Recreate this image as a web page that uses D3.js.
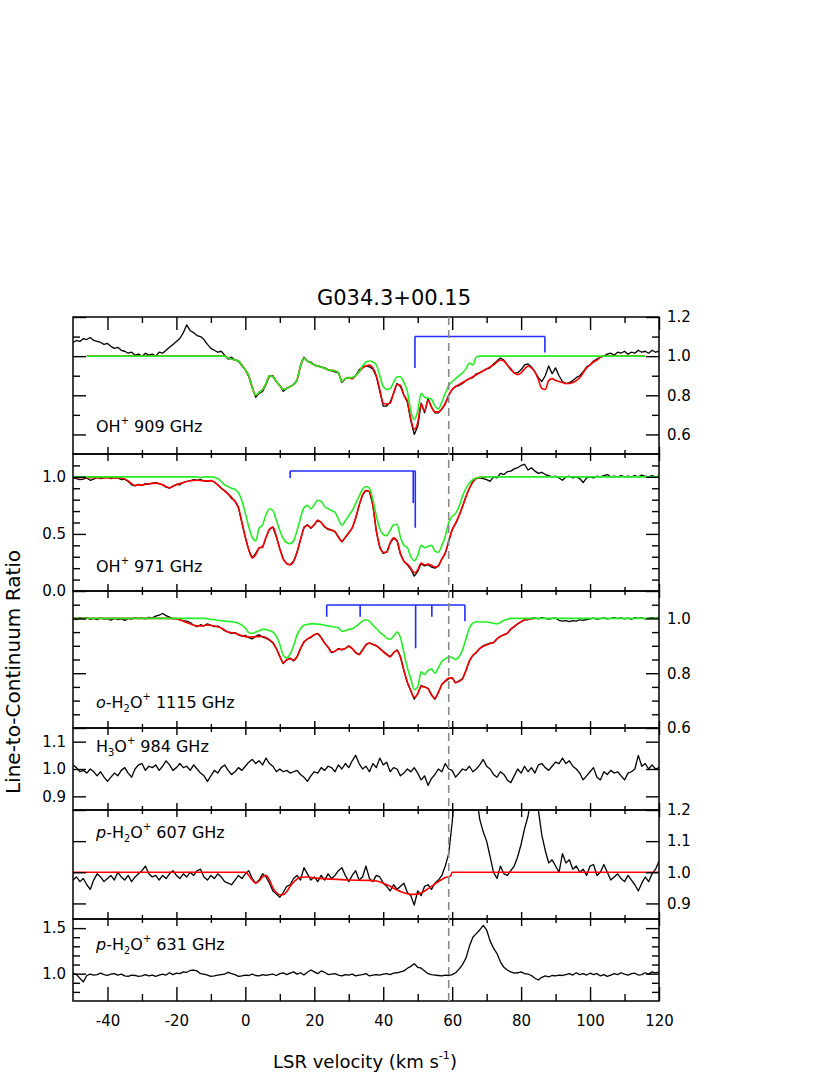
<!DOCTYPE html>
<html><head><meta charset="utf-8">
<script src="https://cdn.jsdelivr.net/npm/d3@7"></script>
<style>body{margin:0;background:#fff}svg{display:block}text{font-family:"DejaVu Sans",sans-serif;fill:#000}</style>
</head><body><svg id="c" width="830" height="1075"></svg>
<script>
// ---------------- DATA ----------------
const title = "G034.3+00.15";
const xTitle = "LSR velocity (km s";
const yTitle = "Line-to-Continuum Ratio";
const vel = d3.range(-50, 121, 1); // velocity grid, km/s
const xMajorTicks = [-40,-20,0,20,40,60,80,100,120];
const xMinorTicks = [-30,-10,10,30,50,70,90,110];
const vDashed = 59;

// panel 1: OH+ 909 GHz
const oh909 = [
1.07,1.08,1.075,1.09,1.085,1.095,1.08,1.075,1.07,1.06,
1.065,1.05,1.04,1.045,1.03,1.025,1.015,1.02,1.005,1.01,
1.0,1.015,1.005,1.01,1.0,1.02,1.015,1.03,1.045,1.06,
1.075,1.09,1.12,1.16,1.13,1.12,1.105,1.1,1.085,1.06,
1.04,1.03,1.02,1.025,1.005,0.985,0.995,0.98,0.975,0.95,
0.93,0.895,0.84,0.79,0.81,0.82,0.855,0.9,0.9,0.87,
0.85,0.82,0.835,0.845,0.855,0.875,0.95,0.995,0.975,0.97,
0.955,0.95,0.945,0.94,0.93,0.925,0.92,0.915,0.865,0.885,
0.89,0.885,0.9,0.93,0.945,0.95,0.945,0.935,0.895,0.82,
0.745,0.745,0.765,0.81,0.86,0.845,0.8,0.765,0.67,0.6,
0.64,0.76,0.71,0.785,0.74,0.71,0.71,0.73,0.755,0.8,
0.83,0.845,0.85,0.86,0.875,0.885,0.89,0.91,0.915,0.925,
0.935,0.94,0.96,0.975,0.99,0.98,0.955,0.93,0.915,0.915,
0.93,0.955,0.96,0.945,0.92,0.89,0.87,0.9,0.95,0.91,
0.94,0.9,0.87,0.86,0.865,0.875,0.89,0.9,0.92,0.945,
0.955,0.975,0.985,0.995,1.0,1.01,1.015,1.005,1.02,1.015,
1.025,1.01,1.02,1.015,1.03,1.02,1.025,1.015,1.03,1.02,
1.025];
const oh909Red = [[-46,1],[-7,1],[-6,1.0],[-5,0.99],[-4,0.985],[-3,0.98],[-2,0.975],[-1,0.955],[0,0.93],[1,0.9],[2,0.84],[3,0.8],[4,0.815],[5,0.83],[6,0.86],[7,0.9],[8,0.895],[9,0.87],[10,0.85],[11,0.83],[12,0.835],[13,0.845],[14,0.855],[15,0.88],[16,0.95],[17,0.99],[18,0.975],[19,0.965],[20,0.955],[22,0.945],[24,0.93],[26,0.925],[27,0.915],[28,0.87],[29,0.885],[30,0.89],[31,0.885],[32,0.9],[33,0.92],[34,0.94],[35,0.95],[36,0.955],[37,0.94],[38,0.9],[39,0.83],[40,0.76],[41,0.755],[42,0.76],[43,0.81],[44,0.855],[45,0.85],[46,0.8],[47,0.77],[48,0.68],[49,0.625],[50,0.66],[51,0.755],[52,0.72],[53,0.775],[54,0.74],[55,0.715],[56,0.715],[57,0.73],[58,0.76],[59,0.8],[60,0.83],[61,0.845],[62,0.855],[63,0.865],[64,0.875],[65,0.885],[66,0.895],[67,0.905],[68,0.915],[69,0.925],[70,0.935],[71,0.945],[72,0.955],[73,0.97],[74,0.98],[75,0.975],[76,0.955],[77,0.935],[78,0.915],[79,0.905],[80,0.915],[81,0.935],[82,0.95],[83,0.94],[84,0.92],[85,0.88],[86,0.835],[87,0.83],[88,0.875],[89,0.885],[90,0.875],[91,0.87],[92,0.865],[93,0.86],[94,0.86],[95,0.865],[96,0.875],[97,0.89],[98,0.915],[99,0.94],[100,0.955],[101,0.97],[102,0.98],[103,0.995],[104,1.0],[116,1.0]];
const oh909Green = [[-46,1],[-7,1],[-6,1.0],[-5,0.99],[-4,0.985],[-3,0.98],[-2,0.975],[-1,0.955],[0,0.93],[1,0.9],[2,0.84],[3,0.8],[4,0.815],[5,0.83],[6,0.86],[7,0.9],[8,0.895],[9,0.87],[10,0.85],[11,0.83],[12,0.835],[13,0.845],[14,0.855],[15,0.88],[16,0.95],[17,0.99],[18,0.975],[19,0.965],[20,0.955],[22,0.945],[24,0.93],[26,0.925],[27,0.915],[28,0.87],[29,0.885],[30,0.89],[31,0.89],[32,0.9],[33,0.92],[34,0.95],[35,0.97],[36,0.975],[37,0.97],[38,0.955],[39,0.9],[40,0.845],[41,0.83],[42,0.835],[43,0.865],[44,0.895],[45,0.895],[46,0.865],[47,0.82],[48,0.72],[49,0.675],[50,0.72],[51,0.81],[52,0.79],[53,0.785],[54,0.78],[55,0.745],[56,0.73],[57,0.765],[58,0.81],[59,0.85],[60,0.87],[61,0.885],[62,0.9],[63,0.915],[64,0.935],[65,0.965],[66,0.955],[67,0.995],[68,1.0],[116,1.0]];
const oh909Hfs = {level:1.1, comps:[[49.2,0.94],[86.9,1.018]]};

// panel 2: OH+ 971 GHz
const oh971 = [
0.99,0.985,0.975,0.98,0.99,0.97,0.98,0.995,0.985,0.99,
1.0,0.985,0.995,0.99,0.975,0.98,0.96,0.93,0.92,0.935,
0.925,0.94,0.935,0.945,0.95,0.94,0.93,0.91,0.9,0.92,
0.935,0.93,0.95,0.96,0.965,0.975,0.97,0.975,0.965,0.96,
0.97,0.955,0.93,0.9,0.88,0.85,0.81,0.79,0.73,0.6,
0.47,0.36,0.29,0.33,0.38,0.38,0.47,0.54,0.56,0.47,
0.37,0.28,0.24,0.23,0.26,0.34,0.45,0.56,0.58,0.55,
0.58,0.62,0.6,0.56,0.54,0.53,0.52,0.47,0.43,0.47,
0.51,0.55,0.64,0.75,0.84,0.88,0.87,0.75,0.52,0.38,
0.33,0.34,0.42,0.46,0.44,0.32,0.26,0.23,0.19,0.13,
0.17,0.24,0.22,0.23,0.21,0.2,0.22,0.28,0.33,0.43,
0.54,0.59,0.66,0.74,0.83,0.9,0.96,0.99,0.99,0.985,
0.975,0.96,1.0,0.99,1.03,1.02,1.045,1.05,1.07,1.08,
1.1,1.11,1.06,1.08,1.05,1.03,1.04,1.02,1.01,1.0,
1.005,0.99,0.97,1.0,1.005,0.99,1.0,0.985,0.95,0.99,
1.0,0.99,1.005,1.0,1.01,1.02,1.0,1.005,1.0,1.01,
1.0,1.005,1.0,1.01,1.0,1.015,1.005,1.0,1.01,1.0,
1.005];
const oh971Red = [[-50,0.995],[-36,0.99],[-35,0.98],[-34,0.965],[-33,0.94],[-32,0.925],[-31,0.93],[-30,0.93],[-28,0.94],[-26,0.945],[-24,0.93],[-23,0.915],[-22,0.905],[-21,0.915],[-20,0.93],[-18,0.95],[-16,0.965],[-14,0.97],[-12,0.965],[-10,0.965],[-9,0.955],[-8,0.93],[-7,0.9],[-6,0.875],[-5,0.85],[-4,0.82],[-3,0.785],[-2,0.73],[-1,0.6],[0,0.47],[1,0.36],[2,0.29],[3,0.32],[4,0.375],[5,0.39],[6,0.47],[7,0.54],[8,0.56],[9,0.48],[10,0.37],[11,0.28],[12,0.24],[13,0.23],[14,0.26],[15,0.34],[16,0.45],[17,0.55],[18,0.575],[19,0.555],[20,0.58],[21,0.62],[22,0.6],[23,0.565],[24,0.545],[25,0.535],[26,0.52],[27,0.475],[28,0.435],[29,0.47],[30,0.51],[31,0.555],[32,0.64],[33,0.75],[34,0.84],[35,0.88],[36,0.87],[37,0.75],[38,0.53],[39,0.39],[40,0.34],[41,0.34],[42,0.42],[43,0.465],[44,0.44],[45,0.33],[46,0.26],[47,0.235],[48,0.2],[49,0.16],[50,0.185],[51,0.245],[52,0.23],[53,0.235],[54,0.225],[55,0.21],[56,0.22],[57,0.28],[58,0.335],[59,0.44],[60,0.535],[61,0.595],[62,0.66],[63,0.74],[64,0.825],[65,0.9],[66,0.955],[67,0.985],[68,0.995],[70,1.0]];
const oh971Green = [[-50,1.0],[-14,1.0],[-13,0.992],[-12,1.0],[-10,1.0],[-9,0.995],[-8,0.985],[-7,0.96],[-6,0.93],[-5,0.915],[-4,0.9],[-3,0.89],[-2,0.86],[-1,0.79],[0,0.68],[1,0.56],[2,0.47],[3,0.44],[4,0.55],[5,0.58],[6,0.67],[7,0.72],[8,0.705],[9,0.62],[10,0.53],[11,0.46],[12,0.425],[13,0.415],[14,0.44],[15,0.53],[16,0.64],[17,0.73],[18,0.75],[19,0.72],[20,0.755],[21,0.795],[22,0.785],[23,0.74],[24,0.72],[25,0.705],[26,0.69],[27,0.63],[28,0.575],[29,0.615],[30,0.66],[31,0.705],[32,0.765],[33,0.83],[34,0.89],[35,0.915],[36,0.9],[37,0.8],[38,0.66],[39,0.545],[40,0.495],[41,0.485],[42,0.53],[43,0.58],[44,0.585],[45,0.47],[46,0.4],[47,0.38],[48,0.3],[49,0.265],[50,0.31],[51,0.4],[52,0.38],[53,0.39],[54,0.4],[55,0.35],[56,0.34],[57,0.4],[58,0.48],[59,0.6],[60,0.655],[61,0.68],[62,0.74],[63,0.83],[64,0.9],[65,0.945],[66,0.975],[67,0.99],[68,0.995],[69,1.0],[120,1.0]];
const oh971Hfs = {level:1.051, comps:[[13,0.99],[48.7,0.77],[49.3,0.554]]};

// panel 3: o-H2O+ 1115 GHz
const h2o1115 = [
1.0,0.995,1.003,0.998,1.002,0.996,1.0,0.995,1.002,0.997,
0.999,0.994,1.0,0.996,0.998,0.993,1.0,0.997,1.003,0.999,
1.002,0.998,1.004,1.002,1.008,1.012,1.018,1.01,1.005,0.999,
1.0,0.995,0.992,0.99,0.985,0.975,0.97,0.977,0.972,0.98,
0.975,0.97,0.972,0.965,0.955,0.95,0.945,0.948,0.94,0.935,
0.938,0.93,0.925,0.935,0.94,0.932,0.928,0.92,0.91,0.89,
0.86,0.835,0.85,0.855,0.845,0.86,0.89,0.915,0.925,0.93,
0.94,0.945,0.93,0.91,0.895,0.875,0.88,0.89,0.885,0.89,
0.9,0.89,0.875,0.868,0.885,0.905,0.91,0.905,0.9,0.89,
0.88,0.87,0.86,0.875,0.885,0.86,0.81,0.765,0.735,0.705,
0.725,0.755,0.75,0.745,0.72,0.705,0.73,0.76,0.77,0.78,
0.782,0.765,0.772,0.78,0.81,0.845,0.865,0.875,0.89,0.9,
0.905,0.91,0.912,0.925,0.935,0.94,0.945,0.962,0.97,0.98,
0.988,0.995,0.995,1.0,1.002,0.998,1.003,1.0,0.997,1.0,
1.001,0.993,0.99,0.992,0.988,0.992,0.99,0.995,0.993,0.996,
0.998,1.001,0.997,0.999,1.002,0.998,1.0,1.003,0.999,1.002,
0.998,1.001,0.997,1.003,1.0,1.002,0.998,1.001,1.003,1.0,
1.002];
const h2o1115Red = [[-50,1.0],[-22,1.0],[-20,0.998],[-18,0.99],[-16,0.98],[-15,0.975],[-13,0.972],[-11,0.976],[-9,0.972],[-7,0.965],[-5,0.95],[-3,0.946],[-1,0.937],[1,0.932],[3,0.933],[5,0.934],[7,0.922],[8,0.912],[9,0.89],[10,0.862],[11,0.838],[12,0.848],[13,0.853],[14,0.848],[15,0.86],[16,0.89],[17,0.913],[18,0.925],[19,0.932],[20,0.94],[21,0.944],[22,0.93],[23,0.91],[24,0.895],[25,0.878],[26,0.88],[27,0.888],[28,0.887],[29,0.89],[30,0.898],[31,0.89],[32,0.876],[33,0.868],[34,0.884],[35,0.903],[36,0.91],[37,0.905],[38,0.9],[39,0.89],[40,0.878],[41,0.868],[42,0.86],[43,0.874],[44,0.884],[45,0.858],[46,0.81],[47,0.768],[48,0.737],[49,0.712],[50,0.725],[51,0.752],[52,0.75],[53,0.743],[54,0.722],[55,0.708],[56,0.73],[57,0.758],[58,0.772],[59,0.782],[60,0.783],[61,0.765],[62,0.77],[63,0.78],[64,0.81],[65,0.845],[66,0.865],[67,0.877],[68,0.89],[69,0.898],[70,0.904],[71,0.908],[72,0.912],[73,0.925],[74,0.934],[75,0.94],[76,0.946],[77,0.96],[78,0.97],[79,0.98],[80,0.988],[81,0.994],[82,0.997],[84,1.0]];
const h2o1115Green = [[-50,1.0],[-12,1.0],[-10,0.997],[-8,0.993],[-6,0.99],[-4,0.988],[-2,0.982],[-1,0.975],[0,0.965],[1,0.948],[2,0.945],[3,0.95],[4,0.955],[5,0.96],[6,0.96],[7,0.955],[8,0.95],[9,0.935],[10,0.905],[11,0.865],[12,0.856],[13,0.87],[14,0.9],[15,0.94],[16,0.962],[17,0.975],[18,0.978],[19,0.98],[20,0.98],[22,0.978],[24,0.972],[26,0.968],[27,0.966],[28,0.953],[29,0.955],[30,0.96],[31,0.962],[32,0.97],[33,0.98],[34,0.99],[35,0.995],[36,0.99],[37,0.975],[38,0.963],[39,0.95],[40,0.94],[41,0.928],[42,0.924],[43,0.935],[44,0.95],[45,0.93],[46,0.875],[47,0.82],[48,0.78],[49,0.74],[50,0.75],[51,0.805],[52,0.795],[53,0.81],[54,0.815],[55,0.8],[56,0.82],[57,0.843],[58,0.852],[59,0.86],[60,0.857],[61,0.85],[62,0.86],[63,0.885],[64,0.925],[65,0.965],[66,0.983],[67,0.988],[70,0.987],[72,0.982],[73,0.98],[74,0.985],[75,0.993],[76,0.997],[77,1.0],[120,1.0]];
const h2o1115Hfs = {level:1.049, comps:[[23.6,1.006],[33.3,1.006],[49.4,0.891],[54.1,1.006],[63.7,0.99]]};

// panel 4: H3O+ 984 GHz
const h3o984 = [
1.015,1.005,0.99,0.995,0.985,1.0,0.99,0.975,0.99,0.97,
0.955,0.97,0.985,0.975,0.995,1.005,0.985,0.97,1.0,1.015,
1.02,0.995,1.01,1.005,1.015,0.995,1.01,1.03,1.015,0.995,
1.005,1.02,1.005,1.01,0.995,1.015,1.0,0.985,0.975,0.955,
0.975,0.995,0.985,1.005,1.015,0.995,0.98,0.99,1.005,0.995,
1.01,1.025,1.035,1.02,1.03,1.015,1.04,1.02,1.01,0.99,
1.0,0.99,0.995,0.985,0.99,0.995,0.98,0.97,0.955,0.975,
0.99,0.985,1.005,0.995,1.01,1.005,0.99,1.015,1.0,1.02,
1.005,1.03,1.05,1.02,1.0,1.01,0.99,1.02,1.005,1.04,
1.015,1.025,0.99,1.005,1.0,0.975,0.985,1.0,0.99,1.005,
0.985,0.96,0.975,0.94,0.965,0.98,1.0,0.99,1.02,1.0,
0.995,0.97,0.985,1.0,0.995,1.01,0.99,1.0,1.015,1.035,
1.01,1.0,0.98,0.97,0.99,0.98,0.96,0.95,0.975,1.0,
0.985,1.01,0.99,1.005,0.985,1.015,1.02,1.005,0.995,1.01,
1.025,1.02,1.04,1.02,1.03,1.01,1.0,0.985,0.96,0.975,
0.99,1.005,0.97,0.96,0.99,0.98,0.995,0.985,0.99,0.975,
0.96,0.985,0.99,1.0,1.05,1.01,1.02,1.0,1.015,1.0,
1.005];

// panel 5: p-H2O+ 607 GHz
const h2o607 = [
0.975,0.985,0.97,0.98,0.96,0.945,0.975,0.995,0.985,0.97,
0.98,0.99,0.975,1.0,0.985,0.975,0.99,0.97,0.985,0.995,
1.005,1.02,0.995,0.985,0.99,0.975,0.99,0.98,0.995,1.005,
0.99,0.98,0.995,0.985,1.0,0.99,1.005,1.01,0.985,0.975,
0.99,0.98,0.995,0.985,0.97,0.965,0.96,0.975,0.99,0.98,
0.995,1.005,0.98,0.965,0.975,0.995,0.985,0.965,0.94,0.93,
0.92,0.935,0.955,0.96,0.98,0.99,0.975,1.015,0.995,0.975,
0.985,0.97,0.99,0.975,0.995,0.98,0.99,1.005,1.015,0.99,
0.97,0.99,1.005,0.975,0.985,1.02,0.98,0.97,0.99,0.985,
0.965,0.955,0.94,0.96,0.945,0.955,0.965,0.935,0.925,0.895,
0.94,0.925,0.955,0.96,0.945,0.965,0.975,0.99,1.02,1.06,
1.16,1.3,1.4,1.46,1.48,1.44,1.35,1.25,1.17,1.13,
1.1,1.05,1.0,0.98,1.02,0.995,0.99,1.005,1.02,1.05,
1.09,1.14,1.18,1.25,1.3,1.2,1.12,1.07,1.03,1.04,
1.02,1.0,1.06,1.03,1.04,1.01,1.02,1.0,1.01,0.99,
1.02,1.025,0.99,1.0,1.025,1.0,0.975,0.985,0.995,0.98,
0.97,0.99,0.975,0.96,0.94,0.965,0.985,0.97,0.995,1.01,
1.035];
const h2o607Red = [[-50,1.0],[0,1.0],[1,0.99],[2,0.975],[3,0.965],[4,0.972],[5,0.985],[6,0.99],[7,0.975],[8,0.95],[9,0.935],[10,0.928],[11,0.928],[12,0.938],[13,0.955],[14,0.968],[15,0.978],[16,0.984],[18,0.985],[20,0.982],[25,0.978],[30,0.975],[35,0.974],[38,0.972],[40,0.965],[42,0.955],[44,0.943],[46,0.934],[48,0.929],[50,0.93],[52,0.94],[54,0.955],[56,0.97],[58,0.983],[59.5,0.988],[60,1.0],[120,1.0]];

// panel 6: p-H2O+ 631 GHz
const h2o631 = [
1.005,0.99,0.95,0.91,0.98,0.995,0.985,0.99,1.005,0.99,
0.98,0.995,1.0,0.985,0.995,0.975,0.97,0.985,0.98,0.97,
0.975,0.99,0.975,0.985,0.97,0.985,0.995,0.985,1.01,0.99,
1.005,1.0,1.02,1.015,1.035,1.04,1.03,1.0,0.995,0.985,
0.97,0.975,0.985,0.99,0.995,1.015,1.0,0.99,0.97,0.975,
0.985,0.98,0.995,0.98,0.975,0.99,0.98,0.99,0.995,0.98,
1.0,1.01,0.99,1.005,1.02,0.995,1.01,0.985,1.015,1.04,
1.02,1.0,1.03,1.015,0.99,0.995,1.0,0.985,0.975,0.99,
0.985,0.995,0.975,0.985,0.99,1.0,0.975,0.985,0.99,0.985,
0.995,1.0,0.99,1.005,1.01,1.02,1.03,1.06,1.08,1.11,
1.07,1.06,1.03,1.0,0.99,0.985,0.98,0.975,0.985,0.98,
0.99,1.01,1.05,1.1,1.17,1.3,1.4,1.44,1.48,1.53,
1.48,1.36,1.28,1.22,1.13,1.07,1.04,1.02,1.005,1.01,
1.02,1.0,0.995,0.98,0.95,0.93,0.96,0.975,0.965,0.98,
0.975,0.985,0.98,0.99,1.0,0.985,1.01,0.99,1.0,0.985,
1.005,0.99,1.0,0.975,0.99,0.97,0.985,1.0,0.99,1.01,
0.995,0.985,1.0,1.005,0.985,0.99,1.01,0.995,1.02,1.01,
1.02];

// ---------------- LAYOUT ----------------
const svg = d3.select('#c');
const L = 73, R = 659;
const x = d3.scaleLinear().domain([-50,120]).range([L,R]);
const fmt1 = d3.format('.1f');
const FONT = '"DejaVu Sans", sans-serif';

const panels = [
 {top:317, bot:454, dom:[0.5,1.2], minor:[0.7,0.9,1.1], major:[0.6,0.8,1.0,1.2], labelSide:'right',
  label:[{t:'OH'},{t:'+',sup:1},{t:' 909 GHz'}], ly:432,
  black:oh909, red:oh909Red, green:oh909Green, hfs:oh909Hfs},
 {top:454, bot:591, dom:[0,1.2], minor:[0.1,0.2,0.3,0.4,0.6,0.7,0.8,0.9,1.1], major:[0,0.5,1.0], labelSide:'left',
  label:[{t:'OH'},{t:'+',sup:1},{t:' 971 GHz'}], ly:572,
  black:oh971, red:oh971Red, green:oh971Green, hfs:oh971Hfs},
 {top:591, bot:728, dom:[0.6,1.1], minor:[0.65,0.7,0.75,0.85,0.9,0.95,1.05], major:[0.6,0.8,1.0], labelSide:'right',
  label:[{t:'o',it:1},{t:'-H'},{t:'2',sub:1},{t:'O'},{t:'+',sup:1},{t:' 1115 GHz'}], ly:708,
  black:h2o1115, red:h2o1115Red, green:h2o1115Green, hfs:h2o1115Hfs},
 {top:728, bot:810, dom:[0.85,1.15], minor:[], major:[0.9,1.0,1.1], labelSide:'left',
  label:[{t:'H'},{t:'3',sub:1},{t:'O'},{t:'+',sup:1},{t:' 984 GHz'}], ly:752,
  black:h3o984},
 {top:810, bot:919, dom:[0.85,1.2], minor:[], major:[0.9,1.0,1.1,1.2], labelSide:'right',
  label:[{t:'p',it:1},{t:'-H'},{t:'2',sub:1},{t:'O'},{t:'+',sup:1},{t:' 607 GHz'}], ly:838,
  black:h2o607, red:h2o607Red},
 {top:919, bot:1001, dom:[0.7,1.6], minor:[0.8,0.9,1.1,1.2,1.3,1.4], major:[1.0,1.5], labelSide:'left',
  label:[{t:'p',it:1},{t:'-H'},{t:'2',sub:1},{t:'O'},{t:'+',sup:1},{t:' 631 GHz'}], ly:950,
  black:h2o631}
];

function styleAxis(g, size){
  g.select('.domain').remove();
  g.attr('font-family', FONT).attr('font-size', size||15);
  g.selectAll('.tick line').attr('stroke','#000').attr('stroke-width',1.4);
  g.selectAll('.tick text').attr('fill','#000');
}

function richText(parent, xp, yp, parts, size, anchor){
  const t = parent.append('text').attr('x',xp).attr('y',yp).attr('font-size',size)
    .attr('text-anchor',anchor||'start');
  let shift = 0;
  parts.forEach(p => {
    const target = p.sup ? -0.5*size : p.sub ? 0.28*size : 0;
    const ts = t.append('tspan').text(p.t).attr('dy', target - shift);
    if (p.sup || p.sub) ts.attr('font-size', size*0.62);
    if (p.it) ts.attr('font-style','italic');
    shift = target;
  });
  return t;
}

const defs = svg.append('defs');

panels.forEach((p,i) => {
  const y = d3.scaleLinear().domain(p.dom).range([p.bot, p.top]);
  const g = svg.append('g');
  defs.append('clipPath').attr('id','clip'+i).append('rect')
    .attr('x',L).attr('y',p.top).attr('width',R-L).attr('height',p.bot-p.top);
  const plot = g.append('g').attr('clip-path','url(#clip'+i+')');
  const line = d3.line().x(d=>x(d[0])).y(d=>y(d[1]));
  const smooth = d3.line().x(d=>x(d[0])).y(d=>y(d[1])).curve(d3.curveMonotoneX);

  plot.append('path').datum(vel.map((v,k)=>[v,p.black[k]])).attr('d',line)
    .attr('fill','none').attr('stroke','#000').attr('stroke-width',1.3).attr('stroke-linejoin','round');
  if (p.red) plot.append('path').datum(p.red).attr('d',smooth)
    .attr('fill','none').attr('stroke','#ff0000').attr('stroke-width',1.6);
  if (p.green) plot.append('path').datum(p.green).attr('d',smooth)
    .attr('fill','none').attr('stroke','#22ee22').attr('stroke-width',1.6);
  if (p.hfs){
    const vs = p.hfs.comps.map(c=>c[0]);
    const yl = y(p.hfs.level);
    g.append('line').attr('x1',x(d3.min(vs))).attr('x2',x(d3.max(vs))).attr('y1',yl).attr('y2',yl)
      .attr('stroke','#1f2bff').attr('stroke-width',1.6);
    p.hfs.comps.forEach(c => g.append('line').attr('x1',x(c[0])).attr('x2',x(c[0]))
      .attr('y1',yl).attr('y2',y(c[1])).attr('stroke','#1f2bff').attr('stroke-width',1.6));
  }

  // y axes
  const leftLab = p.labelSide==='left', rightLab = p.labelSide==='right';
  const aL = g.append('g').attr('transform',`translate(${L},0)`)
    .call(d3.axisLeft(y).tickValues(p.major).tickSize(-13).tickPadding(7).tickFormat(leftLab?fmt1:''));
  styleAxis(aL);
  const aR = g.append('g').attr('transform',`translate(${R},0)`)
    .call(d3.axisRight(y).tickValues(p.major).tickSize(-13).tickPadding(8).tickFormat(rightLab?fmt1:''));
  styleAxis(aR);
  if (p.minor.length){
    styleAxis(g.append('g').attr('transform',`translate(${L},0)`)
      .call(d3.axisLeft(y).tickValues(p.minor).tickSize(-7).tickFormat('')));
    styleAxis(g.append('g').attr('transform',`translate(${R},0)`)
      .call(d3.axisRight(y).tickValues(p.minor).tickSize(-7).tickFormat('')));
  }

  // x ticks
  if (i===0){
    styleAxis(g.append('g').attr('transform',`translate(0,${p.top})`)
      .call(d3.axisTop(x).tickValues(xMajorTicks).tickSize(-13).tickFormat('')));
    styleAxis(g.append('g').attr('transform',`translate(0,${p.top})`)
      .call(d3.axisTop(x).tickValues(xMinorTicks).tickSize(-6).tickFormat('')));
  } else {
    styleAxis(g.append('g').attr('transform',`translate(0,${p.top})`)
      .call(d3.axisTop(x).tickValues(xMajorTicks).tickSize(-7).tickFormat('')));
    styleAxis(g.append('g').attr('transform',`translate(0,${p.top})`)
      .call(d3.axisTop(x).tickValues(xMinorTicks).tickSize(-4).tickFormat('')));
  }
  if (i===panels.length-1){
    styleAxis(g.append('g').attr('transform',`translate(0,${p.bot})`)
      .call(d3.axisBottom(x).tickValues(xMajorTicks).tickSize(-14).tickPadding(14).tickFormat(d=>String(d))));
    styleAxis(g.append('g').attr('transform',`translate(0,${p.bot})`)
      .call(d3.axisBottom(x).tickValues(xMinorTicks).tickSize(-7).tickFormat('')));
  } else {
    styleAxis(g.append('g').attr('transform',`translate(0,${p.bot})`)
      .call(d3.axisBottom(x).tickValues(xMajorTicks).tickSize(-7).tickFormat('')));
    styleAxis(g.append('g').attr('transform',`translate(0,${p.bot})`)
      .call(d3.axisBottom(x).tickValues(xMinorTicks).tickSize(-4).tickFormat('')));
  }

  g.append('rect').attr('x',L).attr('y',p.top).attr('width',R-L).attr('height',p.bot-p.top)
    .attr('fill','none').attr('stroke','#000').attr('stroke-width',1.5);

  richText(g, 96, p.ly, p.label, 16);
});

// dashed reference velocity
svg.append('line').attr('x1',x(vDashed)).attr('x2',x(vDashed))
  .attr('y1',panels[0].top).attr('y2',panels[panels.length-1].bot)
  .attr('stroke','#8a8a8a').attr('stroke-width',1.6).attr('stroke-dasharray','8,5');

// titles
svg.append('text').attr('x',394).attr('y',305).attr('text-anchor','middle').attr('font-size',21).text(title);
richText(svg, 365, 1068, [{t:xTitle},{t:'-1',sup:1},{t:')'}], 18, 'middle');
svg.append('text').attr('transform','translate(20,672) rotate(-90)').attr('text-anchor','middle')
  .attr('font-size',20).text(yTitle);
</script></body></html>
